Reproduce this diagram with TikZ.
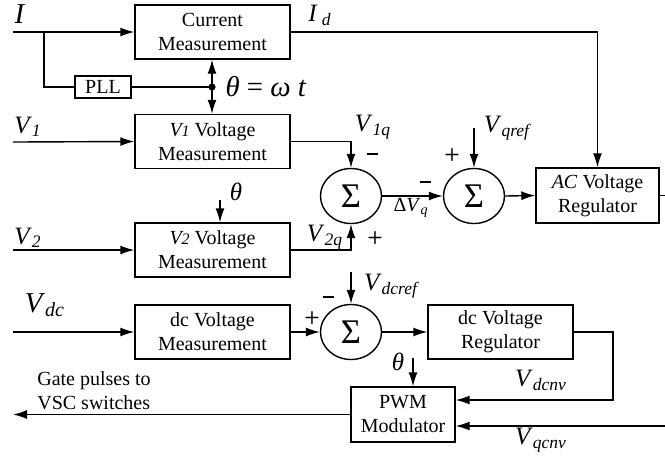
\documentclass[tikz,border=0pt]{standalone}
\usepackage{fontspec}
\setmainfont{Liberation Serif}
\usetikzlibrary{arrows.meta,shapes.geometric}

% senal en cursiva con subindice
\newcommand{\sig}[2]{\textit{#1}\textsubscript{\textit{#2}}}
% signo menos grueso
\newcommand{\menos}{\rule[0.3ex]{5.5pt}{1.2pt}}

\tikzset{
  bloque/.style={draw, line width=0.7pt, align=center, inner sep=1pt,
    minimum width=77.5pt, minimum height=27pt},
  suma/.style={draw, ellipse, line width=0.7pt, minimum width=30.5pt,
    minimum height=27.5pt, inner sep=0pt, font=\LARGE},
  signo/.style={font=\sffamily\bfseries\small, inner sep=0pt},
  flecha/.style={-{Latex[length=7pt,width=4.5pt]}, line width=0.7pt},
  linea/.style={line width=0.7pt},
  etiq/.style={font=\fontsize{12.5}{14}\selectfont, inner sep=0pt}
}

\begin{document}
\begin{tikzpicture}[x=0.5pt,y=-0.5pt]
  \useasboundingbox (0,0) rectangle (665,463);

  % Bloques de medida
  \node[bloque] (cm) at (212.5,32) {Current\\Measurement};
  \node[bloque, minimum width=28pt, minimum height=11pt] (pll) at (103,87) {PLL};
  \node[bloque] (v1m) at (212.5,141.5) {\textit{V{\footnotesize 1}} Voltage\\Measurement};
  \node[bloque] (v2m) at (212.5,250) {\textit{V{\footnotesize 2}} Voltage\\Measurement};
  \node[bloque] (dcm) at (212.5,332) {dc Voltage\\Measurement};

  % Sumadores
  \node[suma] (sum1) at (351,196) {Σ};
  \node[suma] (sum2) at (474,196) {Σ};
  \node[suma] (sum3) at (351,332) {Σ};

  % Reguladores y modulador
  \node[bloque, minimum width=61.5pt, minimum height=27.5pt] (acr) at (597.5,195.5) {\textit{AC} Voltage\\Regulator};
  \node[bloque, minimum width=72.5pt] (dcr) at (500.5,332) {dc Voltage\\Regulator};
  \node[bloque, minimum width=52pt, minimum height=27.5pt] (pwm) at (403,414.5) {PWM\\Modulator};

  % Puntos libres de las entradas y salidas
  \coordinate (inI) at (13,32);
  \coordinate (ramI) at (44,32);
  \coordinate (th) at (212,87);
  \coordinate (inV1) at (13,142);
  \coordinate (inV2) at (13,250);
  \coordinate (thv2) at (220,200);
  \coordinate (vqr) at (474,128);
  \coordinate (acsal) at (665,195.5);
  \coordinate (inVdc) at (13,332);
  \coordinate (vdr) at (351,272);
  \coordinate (dcvuelta) at (613,332);
  \coordinate (thp) at (413,358);
  \coordinate (vqc) at (665,426);
  \coordinate (gate) at (13,414.5);

  % Corriente y PLL
  \draw[flecha] (inI) -- (cm.west);
  \draw[linea] (ramI) |- (pll.west);
  \draw[linea] (pll.east) -- (th);
  \fill (th) circle (1.8pt);
  \draw[flecha] (th) -- (th |- cm.south);
  \draw[flecha] (th) -- (th |- v1m.north);

  % Tensiones V1 y V2
  \draw[flecha] (inV1) -- (v1m.west);
  \draw[flecha] (inV2) -- (v2m.west);
  \draw[flecha] (thv2) -- (thv2 |- v2m.north);
  \draw[flecha] (v1m.east) -| (sum1.north);
  \draw[flecha] (v2m.east) -| (sum1.south);

  % Lazo de tension alterna
  \draw[flecha] (sum1.east) -- (sum2.west);
  \draw[flecha] (vqr) -- (sum2.north);
  \draw[flecha] (sum2.east) -- (acr.west);
  \draw[flecha] (cm.east) -| (acr.north);
  \draw[linea] (acr.east) -- (acsal);

  % Lazo de tension continua
  \draw[flecha] (inVdc) -- (dcm.west);
  \draw[flecha] (dcm.east) -- (sum3.west);
  \draw[flecha] (vdr) -- (sum3.north);
  \draw[flecha] (sum3.east) -- (dcr.west);
  \draw[flecha] (dcr.east) -- (dcvuelta) |- ([yshift=7.25pt]pwm.east);

  % Modulador PWM
  \draw[flecha] (thp) -- (thp |- pwm.north);
  \draw[flecha] (vqc) -- (vqc -| pwm.east);
  \draw[flecha] (pwm.west) -- (gate);

  % Etiquetas de las senales
  \node[etiq, font=\Large] (lI) at (20,14) {\textit{I}};
  \node[etiq] (lId) at (320,15) {\textit{I}\,\textsubscript{\textit{d}}};
  \node[etiq, font=\Large] (lth) at (266,87) {\textit{θ} = \textit{ω t}};
  \node[etiq] (lV1) at (28,127) {\sig{V}{1}};
  \node[etiq] (lV2) at (28,238) {\sig{V}{2}};
  \node[etiq] (lth2) at (236,192) {\textit{θ}};
  \node[etiq] (lV1q) at (373,127) {\sig{V}{1q}};
  \node[etiq] (lV2q) at (325,237) {\sig{V}{2q}};
  \node[etiq, font=\normalsize] (ldV) at (411,208) {Δ\sig{V}{q}};
  \node[etiq] (lVqr) at (508,128) {\sig{V}{qref}};
  \node[etiq, font=\Large] (lVdc) at (45,305) {\sig{V}{dc}};
  \node[etiq] (lVdr) at (392,286) {\sig{V}{dcref}};
  \node[etiq] (lthp) at (398,362) {\textit{θ}};
  \node[etiq] (lVdcnv) at (541,380) {\sig{V}{dcnv}};
  \node[etiq] (lVqcnv) at (541,440) {\sig{V}{qcnv}};
  \node[align=left, inner sep=0pt] (lgate) at (94,391) {Gate pulses to\\VSC switches};

  % Signos de los sumadores
  \node[signo] (s1a) at (372,155) {\menos};
  \node[signo] (s1b) at (375,238) {+};
  \node[signo] (s2a) at (425,183) {\menos};
  \node[signo] (s2b) at (452,155) {+};
  \node[signo] (s3a) at (312,318) {+};
  \node[signo] (s3b) at (328,298) {\menos};

\end{tikzpicture}
\end{document}
